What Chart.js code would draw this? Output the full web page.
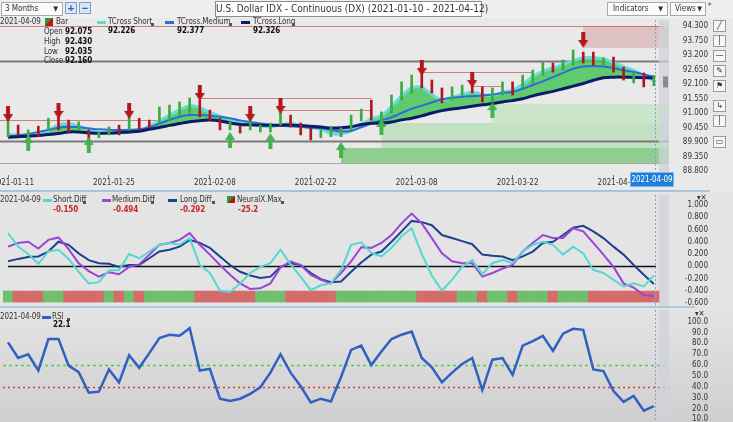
<!DOCTYPE html>
<html>
<head>
<meta charset="utf-8">
<title>U.S. Dollar IDX - Continuous (DX)</title>
<script src="https://cdn.jsdelivr.net/npm/chart.js@4.4.1/dist/chart.umd.min.js"></script>
<style>
  body { margin: 0; width: 733px; height: 422px; overflow: hidden; position: relative; background: #ebebeb;
         font-family: "Liberation Sans Narrow", "DejaVu Sans Condensed", "Arial Narrow", sans-serif; color: #333; }
  canvas { position: absolute; left: 0; }
  .t { position: absolute; white-space: nowrap; font-size: 8px; line-height: 10px; letter-spacing: -0.1px; }
  .b { font-weight: bold; color: #111; }
  .neg { font-weight: bold; color: #c62828; }
  .dash { position: absolute; width: 9px; height: 3px; }
  .dot { position: absolute; width: 3px; height: 3px; background: #4a5560; }
  .box { position: absolute; border: 1px solid #a9a9a9; background: #fbfbfb; font-size: 8px; line-height: 12px; box-sizing: border-box; white-space: nowrap; }
  .btn { position: absolute; top: 2px; width: 12px; height: 12px; border: 1px solid #7d9ec8; background: #d9e6f5; color: #1f5fb8;
         font: bold 11px/10px Arial, sans-serif; text-align: center; box-sizing: border-box; }
  .tool { position: absolute; left: 713px; width: 13px; height: 12px; border: 1px solid #9a9a9a; background: #f6f6f6; box-sizing: border-box;
          font: 8px/10px "DejaVu Sans", sans-serif; text-align: center; color: #333; }
  .sep { position: absolute; left: 0; width: 710px; height: 2px; background: #a9c3dd; }
</style>
</head>
<body>

<div style="position:absolute;left:0;top:0;width:733px;height:18px;background:#efefef"></div>
<div style="position:absolute;left:0;top:18px;width:733px;height:173px;background:#e9e9e9"></div>
<div style="position:absolute;left:0;top:192px;width:733px;height:116px;background:#e4e4e4"></div>
<div style="position:absolute;left:0;top:308px;width:733px;height:114px;background:linear-gradient(#e4e4e4,#cfcfcf)"></div>

<canvas id="priceChart" width="733" height="172" style="top:18px"></canvas>
<canvas id="diffChart" width="733" height="116" style="top:192px"></canvas>
<canvas id="rsiChart" width="733" height="114" style="top:308px"></canvas>

<!-- toolbar -->
<div class="box" style="left:1px;top:2px;width:62px;height:14px;padding-left:3px">3 Months<span style="position:absolute;right:4px;font-size:7px">▼</span></div>
<div class="btn" style="left:65px">+</div>
<div class="btn" style="left:79px">−</div>
<div class="box" style="left:215px;top:1px;width:267px;height:16px;font-size:10px;line-height:14px;text-align:center;background:#fff;border-color:#8c8c8c">U.S. Dollar IDX - Continuous (DX) (2021-01-10 - 2021-04-12)</div>
<div class="box" style="left:607px;top:2px;width:61px;height:14px;padding-left:5px">Indicators<span style="position:absolute;right:4px;font-size:7px">▼</span></div>
<div class="box" style="left:670px;top:2px;width:36px;height:14px;padding-left:4px">Views<span style="position:absolute;right:3px;font-size:7px">▼</span></div>
<div class="t" style="left:708px;top:2px">*</div>

<!-- price legend -->
<div class="t" style="left:0;top:17px">2021-04-09</div>
<div style="position:absolute;left:45px;top:18px;width:8px;height:8px;background:linear-gradient(135deg,#2d9a33 50%,#b3191c 50%)"></div>
<div class="t" style="left:56px;top:17px">Bar</div>
<div class="dash" style="left:97px;top:21px;background:#62d8d6"></div>
<div class="t" style="left:108px;top:17px">TCross Short</div><div class="dot" style="left:151px;top:23px"></div>
<div class="dash" style="left:165px;top:21px;background:#2c6ed5"></div>
<div class="t" style="left:177px;top:17px">TCross.Medium</div><div class="dot" style="left:229px;top:23px"></div>
<div class="dash" style="left:241px;top:21px;background:#0b1c66"></div>
<div class="t" style="left:253px;top:17px">TCross.Long</div><div class="dot" style="left:292px;top:23px"></div>
<div class="t" style="left:44px;top:27px">Open</div><div class="t b" style="left:65px;top:27px">92.075</div>
<div class="t b" style="left:108px;top:26px">92.226</div>
<div class="t b" style="left:177px;top:26px">92.377</div>
<div class="t b" style="left:253px;top:26px">92.326</div>
<div class="t" style="left:44px;top:37px">High</div><div class="t b" style="left:65px;top:37px">92.430</div>
<div class="t" style="left:44px;top:47px">Low</div><div class="t b" style="left:65px;top:47px">92.035</div>
<div class="t" style="left:44px;top:56px">Close</div><div class="t b" style="left:65px;top:56px">92.160</div>
<div class="t" style="left:631px;top:173px;width:42px;height:13px;line-height:13px;text-align:center;background:#1f7fd8;color:#fff;outline:1px solid #79b6ee">2021-04-09</div>

<!-- right tool column -->
<div class="tool" style="top:20px">╱</div>
<div class="tool" style="top:35px">│</div>
<div class="tool" style="top:50px">—</div>
<div class="tool" style="top:65px">✎</div>
<div class="tool" style="top:80px">⚑</div>
<div class="tool" style="top:100px">↳</div>
<div class="tool" style="top:115px">│</div>
<div class="tool" style="top:136px">▭</div>

<div class="sep" style="top:190px"></div>
<div class="sep" style="top:306px;width:695px;background:#b3c7da"></div>

<!-- diff legend -->
<div class="t" style="left:0;top:195px">2021-04-09</div>
<div class="dash" style="left:43px;top:199px;background:#55d8d0"></div>
<div class="t" style="left:53px;top:195px">Short.Diff</div><div class="dot" style="left:83px;top:201px"></div>
<div class="dash" style="left:102px;top:199px;background:#9a44d8"></div>
<div class="t" style="left:112px;top:195px">Medium.Diff</div><div class="dot" style="left:151px;top:201px"></div>
<div class="dash" style="left:168px;top:199px;background:#20408f"></div>
<div class="t" style="left:180px;top:195px">Long.Diff</div><div class="dot" style="left:212px;top:201px"></div>
<div style="position:absolute;left:227px;top:196px;width:8px;height:7px;background:linear-gradient(135deg,#2d9a33 50%,#b3191c 50%)"></div>
<div class="t" style="left:237px;top:195px">NeuralX.Max</div><div class="dot" style="left:281px;top:201px"></div>
<div class="t neg" style="left:53px;top:205px">-0.150</div>
<div class="t neg" style="left:113px;top:205px">-0.494</div>
<div class="t neg" style="left:180px;top:205px">-0.292</div>
<div class="t neg" style="left:238px;top:205px">-25.2</div>
<div class="t" style="left:697px;top:193px">▾✕</div>

<!-- rsi legend -->
<div class="t" style="left:0;top:312px">2021-04-09</div>
<div class="dash" style="left:42px;top:316px;background:#3060c0"></div>
<div class="t" style="left:52px;top:312px">RSI</div><div class="dot" style="left:67px;top:318px"></div>
<div class="t b" style="left:53px;top:320px">22.1</div>
<div class="t" style="left:695px;top:309px">▾✕</div>

<script>
// values, one per trading day 2021-01-11 .. 2021-04-09

var tcrossShort = [90.17, 90.17, 90.16, 90.17, 90.35, 90.55, 90.60, 90.50, 90.38, 90.26,
    90.22, 90.24, 90.27, 90.32, 90.50, 90.70, 90.92, 91.12, 91.28, 91.20,
    91.02, 90.88, 90.76, 90.68, 90.60, 90.52, 90.48, 90.55, 90.60, 90.52,
    90.44, 90.40, 90.22, 90.20, 90.32, 90.55, 90.78, 90.90, 91.25, 91.65,
    91.95, 91.97, 91.70, 91.50, 91.60, 91.70, 91.80, 91.70, 91.66, 91.78,
    91.87, 92.08, 92.38, 92.58, 92.72, 92.84, 92.98, 93.10, 93.10, 93.06,
    92.92, 92.76, 92.62, 92.42, 92.23];

var tcrossMedium = [90.12, 90.15, 90.20, 90.28, 90.36, 90.44, 90.48, 90.46, 90.42, 90.38,
    90.36, 90.36, 90.36, 90.38, 90.46, 90.60, 90.74, 90.86, 90.92, 90.92,
    90.90, 90.86, 90.80, 90.72, 90.66, 90.60, 90.55, 90.52, 90.50, 90.47,
    90.44, 90.42, 90.36, 90.30, 90.32, 90.46, 90.60, 90.72, 90.84, 91.00,
    91.16, 91.28, 91.40, 91.52, 91.58, 91.62, 91.64, 91.66, 91.70, 91.76,
    91.81, 91.92, 92.06, 92.20, 92.36, 92.52, 92.68, 92.76, 92.78, 92.76,
    92.70, 92.62, 92.56, 92.46, 92.38];

var tcrossLong = [90.08, 90.10, 90.12, 90.15, 90.18, 90.22, 90.28, 90.28, 90.25, 90.23,
    90.24, 90.26, 90.28, 90.31, 90.38, 90.45, 90.53, 90.60, 90.67, 90.71,
    90.73, 90.70, 90.62, 90.56, 90.55, 90.54, 90.54, 90.54, 90.54, 90.53,
    90.50, 90.47, 90.43, 90.44, 90.48, 90.56, 90.61, 90.61, 90.66, 90.74,
    90.80, 90.89, 91.00, 91.09, 91.15, 91.20, 91.26, 91.31, 91.36, 91.42,
    91.47, 91.54, 91.65, 91.74, 91.82, 91.92, 92.02, 92.12, 92.24, 92.34,
    92.36, 92.36, 92.35, 92.34, 92.33];

var barHigh = [90.73, 90.54, 90.36, 90.50, 90.80, 90.85, 90.73, 90.66, 90.36, 90.28,
    90.47, 90.54, 90.85, 90.80, 90.73, 91.23, 91.30, 91.42, 91.57, 91.49,
    91.11, 90.80, 90.66, 90.54, 90.73, 90.54, 90.62, 91.04, 90.92, 90.62,
    90.43, 90.36, 90.47, 90.43, 90.92, 91.15, 91.49, 91.04, 91.68, 92.18,
    92.44, 92.52, 92.25, 91.95, 91.99, 92.06, 92.14, 91.99, 91.95, 92.18,
    92.18, 92.44, 92.63, 92.93, 92.90, 93.01, 93.39, 93.31, 93.31, 93.09,
    93.12, 92.74, 92.52, 92.52, 92.43];

var barLow = [90.10, 90.17, 90.06, 90.10, 90.36, 90.36, 90.28, 90.36, 89.98, 90.06,
    90.17, 90.17, 90.36, 90.36, 90.43, 90.62, 90.73, 90.92, 91.00, 90.85,
    90.73, 90.36, 90.36, 90.24, 90.36, 90.28, 90.28, 90.54, 90.47, 90.17,
    89.98, 90.06, 90.10, 90.10, 90.36, 90.70, 90.73, 90.62, 91.00, 91.49,
    91.76, 91.95, 91.76, 91.38, 91.49, 91.68, 91.76, 91.42, 91.42, 91.68,
    91.68, 91.95, 92.14, 92.44, 92.55, 92.63, 92.82, 92.90, 92.82, 92.82,
    92.55, 92.25, 92.14, 91.99, 92.035];

// 1 = up bar (green), 0 = down bar (red)
var barUp = [1, 0, 1, 0, 1, 0, 0, 1, 0, 1,
    1, 0, 1, 0, 0, 1, 1, 1, 1, 0,
    0, 0, 1, 0, 1, 1, 1, 1, 0, 0,
    0, 1, 1, 1, 1, 1, 0, 1, 1, 1,
    1, 0, 0, 0, 1, 1, 0, 0, 1, 1,
    0, 1, 1, 1, 0, 1, 1, 0, 0, 1,
    0, 0, 1, 0, 1];

// [bar index, price]
var sellSignals = [[0, 90.96], [5, 91.08], [12, 91.08], [19, 91.76], [24, 90.96],
    [27, 91.27], [41, 92.71], [46, 92.25], [57, 93.77]];
var buySignals = [[2, 89.86], [8, 89.79], [22, 89.98], [26, 89.94], [33, 89.60],
    [37, 90.47], [48, 91.11]];

// support zones [start bar, low, high] and resistance zone
var buyZones = [[33, 89.10, 89.67], [37, 89.67, 90.62], [48, 90.62, 91.34]];
var sellZone = [57, 93.47, 94.30];
var grayLevels = [92.97, 89.95, 89.10];
// [from bar, to bar, price]
var redLevels = [[0, 65, 94.30], [0, 15, 90.73], [19, 36, 91.58], [27, 36, 91.11], [41, 52, 92.57], [46, 49, 92.03]];
var lastClose = 92.16;

var shortDiff = [0.54, 0.32, 0.20, 0.04, 0.24, 0.27, 0.12, -0.09, -0.28, -0.26,
    -0.07, -0.06, 0.20, 0.13, 0.24, 0.35, 0.38, 0.35, 0.46, 0.02,
    -0.11, -0.40, -0.42, -0.28, -0.11, -0.01, 0.05, 0.27, 0.03, -0.17,
    -0.39, -0.31, -0.28, -0.06, 0.35, 0.39, 0.22, 0.16, 0.30, 0.49,
    0.62, 0.20, -0.15, -0.40, -0.22, -0.01, 0.10, -0.13, 0.05, 0.10,
    0.05, 0.24, 0.35, 0.40, 0.35, 0.19, 0.32, 0.21, -0.06, -0.11,
    -0.22, -0.33, -0.28, -0.33, -0.15];

var mediumDiff = [0.32, 0.38, 0.40, 0.29, 0.43, 0.47, 0.28, 0.05, -0.08, -0.17,
    -0.10, -0.13, -0.01, 0.03, 0.19, 0.35, 0.38, 0.43, 0.54, 0.35,
    0.19, 0.02, -0.14, -0.28, -0.37, -0.36, -0.28, -0.02, 0.08, 0.02,
    -0.14, -0.22, -0.28, -0.11, 0.08, 0.31, 0.30, 0.38, 0.51, 0.70,
    0.86, 0.70, 0.46, 0.21, 0.08, 0.05, 0.05, -0.17, -0.11, -0.04,
    0.02, 0.24, 0.38, 0.51, 0.46, 0.46, 0.62, 0.57, 0.38, 0.19,
    -0.01, -0.28, -0.35, -0.47, -0.49];

var longDiff = [0.08, 0.12, 0.15, 0.16, 0.24, 0.40, 0.35, 0.21, 0.10, 0.05,
    0.04, -0.01, 0.02, 0.02, 0.13, 0.24, 0.27, 0.32, 0.43, 0.38,
    0.30, 0.16, 0.02, -0.09, -0.15, -0.19, -0.17, -0.01, 0.05, 0.02,
    -0.11, -0.21, -0.26, -0.25, -0.09, 0.06, 0.19, 0.24, 0.40, 0.57,
    0.74, 0.72, 0.67, 0.51, 0.46, 0.41, 0.36, 0.19, 0.17, 0.16,
    0.10, 0.16, 0.24, 0.38, 0.40, 0.51, 0.63, 0.66, 0.57, 0.46,
    0.32, 0.19, 0.02, -0.14, -0.29];

// NeuralX.Max direction: 1 = green, -1 = red
var neuralX = [1, -1, -1, -1, 1, 1, -1, -1, -1, -1,
    1, -1, 1, -1, 1, 1, 1, 1, 1, -1,
    -1, -1, -1, -1, -1, 1, 1, 1, -1, -1,
    -1, -1, -1, 1, 1, 1, 1, 1, 1, 1,
    1, -1, -1, -1, -1, 1, 1, -1, 1, 1,
    -1, 1, 1, 1, -1, 1, 1, 1, -1, -1,
    -1, -1, -1, -1, -1];

var rsi = [81, 66.5, 70, 55, 84, 84, 59.5, 53.5, 34.5, 35.5,
    56, 44, 69, 57.5, 71, 85, 88, 87, 94, 55,
    56.5, 29, 27, 29, 33.5, 39.5, 53, 70, 53, 40.5,
    25.5, 29, 26.5, 49, 74, 78, 60, 72.5, 84, 88,
    91, 66.5, 58, 44, 53, 61, 66.5, 37, 65, 66.5,
    51, 78, 82, 87, 73, 89, 93.5, 92.5, 56, 54.5,
    36, 26, 31.5, 18, 22.1];

var priceTicks = [88.8, 89.35, 89.9, 90.45, 91.0, 91.55, 92.1, 92.65, 93.2, 93.75, 94.3];
var diffTicks = [-0.6, -0.4, -0.2, 0, 0.2, 0.4, 0.6, 0.8, 1.0];
var rsiTicks = [10, 20, 30, 40, 50, 60, 70, 80, 90, 100];

// weekday labels, plus one empty slot after the last bar
var dates = [];
var day = new Date(Date.UTC(2021, 0, 11));
while (dates.length < rsi.length) {
    var wd = day.getUTCDay();
    if (wd > 0 && wd < 6) dates.push(day.toISOString().slice(0, 10));
    day.setUTCDate(day.getUTCDate() + 1);
}
var xLabels = dates.concat(['']);
var LAST = dates.length - 1;

var FONT_FAMILY = '"Liberation Sans Narrow", "DejaVu Sans Condensed", "Arial Narrow", sans-serif';
Chart.defaults.font.family = FONT_FAMILY;
Chart.defaults.font.size = 8;
Chart.defaults.color = '#333';
Chart.defaults.animation = false;

function axisPad(labels) {
    var g = document.createElement('canvas').getContext('2d');
    g.font = '8px ' + FONT_FAMILY;
    var w = 0;
    labels.forEach(function (l) { w = Math.max(w, g.measureText(l).width); });
    return Math.max(1, Math.round(39 - w));
}

// value axis on the right: 669..708, labels right-aligned at 708
function rightAxis(min, max, ticks, digits) {
    var labels = ticks.map(function (v) { return v.toFixed(digits); });
    return {
        position: 'right', min: min, max: max,
        grid: { display: false, drawTicks: false },
        border: { display: false },
        ticks: {
            crossAlign: 'far', padding: axisPad(labels), color: '#333', autoSkip: false,
            callback: function (v) { return Number(v).toFixed(digits); }
        },
        afterBuildTicks: function (s) { s.ticks = ticks.map(function (v) { return { value: v }; }); },
        afterFit: function (s) { s.width = 39; s.paddingTop = 0; s.paddingBottom = 0; }
    };
}

function xAxis(show) {
    return {
        type: 'category', offset: true, display: show,
        grid: { display: show, drawOnChartArea: false, offset: false, tickLength: 3, color: '#777' },
        border: { display: false },
        ticks: { autoSkip: false, maxRotation: 0, padding: 0, labelOffset: 5, color: '#333' },
        afterBuildTicks: function (s) {
            s.ticks = s.ticks.filter(function (t) { return t.value % 10 === 0 && t.value <= 60; });
        },
        afterFit: function (s) {
            s.paddingLeft = 0; s.paddingRight = 0;
            if (show) s.height = 15;
        }
    };
}

// band after the last bar and the dashed marker on it, in every panel
var lastBarMarks = {
    id: 'lastBarMarks',
    beforeDatasetsDraw: function (chart) {
        var c = chart.ctx, a = chart.chartArea;
        var x0 = chart.scales.x.getPixelForValue(LAST) + 5;
        c.save();
        c.fillStyle = 'rgba(205,211,219,0.75)';
        c.fillRect(x0, a.top, a.right - x0, a.bottom - a.top);
        c.restore();
    },
    afterDatasetsDraw: function (chart) {
        var c = chart.ctx, a = chart.chartArea;
        var x = Math.round(chart.scales.x.getPixelForValue(LAST)) + 1.5;
        c.save();
        c.strokeStyle = '#7fa6cf';
        c.lineWidth = 1;
        c.setLineDash([2, 2]);
        c.beginPath(); c.moveTo(x, a.top); c.lineTo(x, a.bottom); c.stroke();
        c.restore();
    }
};

var priceDecor = {
    id: 'priceDecor',
    beforeDatasetsDraw: function (chart) {
        var c = chart.ctx, a = chart.chartArea, x = chart.scales.x, y = chart.scales.y;
        var zoneColors = ['rgba(112,196,112,0.75)', 'rgba(176,220,176,0.7)', 'rgba(190,226,190,0.7)'];
        c.save();
        c.beginPath(); c.rect(0, a.top, a.right, a.bottom - a.top); c.clip();
        buyZones.forEach(function (z, k) {
            var x0 = x.getPixelForValue(z[0]);
            c.fillStyle = zoneColors[k];
            c.fillRect(x0, y.getPixelForValue(z[2]), a.right - x0, y.getPixelForValue(z[1]) - y.getPixelForValue(z[2]));
        });
        var sx = x.getPixelForValue(sellZone[0]);
        c.fillStyle = 'rgba(214,160,164,0.55)';
        c.fillRect(sx, y.getPixelForValue(sellZone[2]), a.right - sx, y.getPixelForValue(sellZone[1]) - y.getPixelForValue(sellZone[2]));

        grayLevels.forEach(function (p, k) {
            var py = Math.round(y.getPixelForValue(p)) + 0.5;
            c.strokeStyle = k < 2 ? '#7a7a7a' : '#a8a8a8';
            c.lineWidth = k < 2 ? 2 : 1;
            c.beginPath(); c.moveTo(0, py); c.lineTo(a.right, py); c.stroke();
        });
        c.strokeStyle = 'rgba(200,90,90,0.75)';
        c.lineWidth = 1;
        redLevels.forEach(function (r) {
            var py = Math.round(y.getPixelForValue(r[2])) + 0.5;
            c.beginPath(); c.moveTo(r[0] === 0 ? 0 : x.getPixelForValue(r[0]), py); c.lineTo(Math.min(a.right, x.getPixelForValue(r[1])), py); c.stroke();
        });
        c.restore();
    },
    afterDatasetsDraw: function (chart) {
        var c = chart.ctx, a = chart.chartArea, y = chart.scales.y;
        c.save();
        c.fillStyle = '#8a8a8a';
        c.fillRect(a.right - 6, y.getPixelForValue(lastClose) - 6, 5, 11);
        c.restore();
    }
};

function makeArrow(color, down) {
    var cv = document.createElement('canvas');
    cv.width = 10; cv.height = 16;
    var g = cv.getContext('2d');
    if (!down) { g.translate(0, 16); g.scale(1, -1); }
    g.fillStyle = color;
    g.fillRect(3, 0, 4, 9);
    g.beginPath(); g.moveTo(0, 8); g.lineTo(10, 8); g.lineTo(5, 16); g.closePath(); g.fill();
    return cv;
}

// signal points placed on their bar's date label
function points(list) {
    return list.map(function (p) { return { x: dates[p[0]], y: p[1] }; });
}

var baseOptions = {
    responsive: false,
    events: [],
    plugins: { legend: { display: false }, tooltip: { enabled: false } }
};

new Chart(document.getElementById('priceChart'), {
    type: 'bar',
    data: {
        labels: xLabels,
        datasets: [
            { type: 'line', data: tcrossLong, borderColor: '#0b1c66', borderWidth: 3, pointRadius: 0, tension: 0.35, fill: false, order: 2 },
            { type: 'line', data: tcrossMedium, borderColor: '#2c6ed5', borderWidth: 2, pointRadius: 0, tension: 0.35, fill: false, order: 3 },
            { type: 'line', data: tcrossShort, borderColor: '#66dcdc', borderWidth: 3, pointRadius: 0, tension: 0.35,
              fill: { target: 0, above: 'rgba(72,196,88,0.85)', below: 'rgba(118,104,196,0.55)' }, order: 4 },
            { type: 'bar', data: barLow.map(function (lo, i) { return [lo, barHigh[i]]; }),
              backgroundColor: barUp.map(function (u) { return u ? '#3aab3f' : '#b4161b'; }), barThickness: 2, order: 1 },
            { type: 'line', data: points(sellSignals), showLine: false, pointStyle: makeArrow('#b3191c', true), pointRadius: 6, order: 0 },
            { type: 'line', data: points(buySignals), showLine: false, pointStyle: makeArrow('#45b24b', false), pointRadius: 6, order: 0 }
        ]
    },
    options: Object.assign({}, baseOptions, {
        layout: { autoPadding: false, padding: { top: 2, left: 3, right: 25, bottom: 0 } },
        scales: {
            x: xAxis(true),
            y: rightAxis(88.648, 94.528, priceTicks, 3)
        }
    }),
    plugins: [priceDecor, lastBarMarks]
});

var zeroLine = {
    id: 'zeroLine',
    beforeDatasetsDraw: function (chart) {
        var c = chart.ctx, a = chart.chartArea;
        var py = Math.round(chart.scales.y.getPixelForValue(0)) + 0.5;
        c.save();
        c.strokeStyle = '#111';
        c.lineWidth = 1.5;
        c.beginPath(); c.moveTo(a.left + 5, py); c.lineTo(chart.scales.x.getPixelForValue(LAST) + 2, py); c.stroke();
        c.restore();
    }
};

new Chart(document.getElementById('diffChart'), {
    type: 'bar',
    data: {
        labels: xLabels,
        datasets: [
            { type: 'line', data: shortDiff, borderColor: '#55d8d0', borderWidth: 2, pointRadius: 0, tension: 0, order: 1 },
            { type: 'line', data: mediumDiff, borderColor: '#9a44d8', borderWidth: 2, pointRadius: 0, tension: 0, order: 2 },
            { type: 'line', data: longDiff, borderColor: '#20408f', borderWidth: 2, pointRadius: 0, tension: 0, order: 3 },
            { type: 'bar', data: neuralX.map(function () { return [-0.585, -0.405]; }),
              backgroundColor: neuralX.map(function (s) { return s > 0 ? '#6fbf6c' : '#d56b6b'; }),
              barPercentage: 1, categoryPercentage: 1, order: 5 }
        ]
    },
    options: Object.assign({}, baseOptions, {
        layout: { autoPadding: false, padding: { top: 3, left: 3, right: 25, bottom: 2 } },
        scales: {
            x: xAxis(false),
            y: rightAxis(-0.649, 1.163, diffTicks, 3)
        }
    }),
    plugins: [zeroLine, lastBarMarks]
});

var rsiLevels = {
    id: 'rsiLevels',
    beforeDatasetsDraw: function (chart) {
        var c = chart.ctx, a = chart.chartArea, y = chart.scales.y;
        c.save();
        c.lineWidth = 1.5;
        c.strokeStyle = '#4fcf4f';
        c.setLineDash([3, 3]);
        var p60 = Math.round(y.getPixelForValue(60)) + 0.5;
        c.beginPath(); c.moveTo(a.left, p60); c.lineTo(a.right, p60); c.stroke();
        c.strokeStyle = '#d23a3a';
        c.setLineDash([2, 3]);
        var p40 = Math.round(y.getPixelForValue(40)) + 0.5;
        c.beginPath(); c.moveTo(a.left, p40); c.lineTo(a.right, p40); c.stroke();
        c.restore();
    }
};

new Chart(document.getElementById('rsiChart'), {
    type: 'line',
    data: {
        labels: xLabels,
        datasets: [
            { data: rsi, borderColor: '#3060c0', borderWidth: 2.5, pointRadius: 0, tension: 0 }
        ]
    },
    options: Object.assign({}, baseOptions, {
        layout: { autoPadding: false, padding: { top: 2, left: 3, right: 25, bottom: 0 } },
        scales: {
            x: xAxis(false),
            y: rightAxis(7.51, 110.79, rsiTicks, 1)
        }
    }),
    plugins: [rsiLevels, lastBarMarks]
});
</script>
</body>
</html>
